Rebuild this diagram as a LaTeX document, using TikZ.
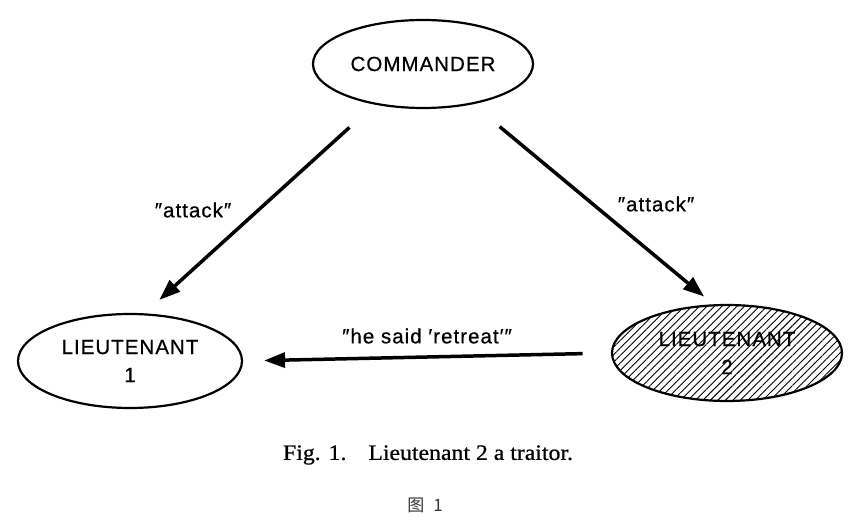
\documentclass[tikz,border=0pt]{standalone}
\usepackage{fontspec}
\usepackage{tikz}
\usetikzlibrary{arrows.meta, shapes.geometric, patterns.meta}

\newfontfamily\labelfont[LetterSpace=5, FakeBold=0.6]{Liberation Sans}
\newfontfamily\capfont[FakeStretch=1.08, FakeBold=0.8]{Liberation Serif}
\newfontfamily\cjkfont{Noto Sans CJK SC}

\begin{document}
\begin{tikzpicture}[x=1pt, y=-1pt,
  every node/.style={align=center},
  general/.style={ellipse, draw, line width=2.2pt, inner sep=0pt, font=\labelfont\fontsize{20.5}{28}\selectfont},
  traitor/.style={general, pattern={Lines[angle=45, distance=5.3pt, line width=0.9pt]}},
  message/.style={font=\labelfont\fontsize{20.5}{24}\selectfont},
  arrow/.style={-{Triangle[length=21pt, width=15pt]}, line width=3.5pt}
]
\useasboundingbox (0,0) rectangle (860,526);

% Nodes
\node[general, minimum width=220pt, minimum height=88pt] (commander) at (423,64) {COMMANDER};
\node[general, minimum width=224pt, minimum height=94pt] (lieut1) at (130,361) {LIEUTENANT\\1};
\node[traitor, minimum width=230pt, minimum height=96pt] (lieut2) at (727,353) {LIEUTENANT\\2};

% Messages
\node[message] (attack1) at (193,210) {″attack″};
\node[message] (attack2) at (656,204) {″attack″};
\node[message] (retreat) at (427,336) {″he said ′retreat′″};

% Caption
\node[font=\capfont\fontsize{22}{26}\selectfont] (caption) at (428,455) {Fig. 1.\quad Lieutenant 2 a traitor.};
\node[font=\cjkfont\fontsize{17}{19}\selectfont, text=black!80] (fignum) at (425,505) {图\hspace{9pt}1};

% Arrows
\draw[arrow, shorten <=34pt, shorten >=20pt] (commander.220) -- (lieut1.73);
\draw[arrow, shorten <=35pt, shorten >=13pt] (commander.321) -- (lieut2.105);
\draw[arrow, shorten <=29pt, shorten >=21pt] (lieut2.west) -- (lieut1.east);

\end{tikzpicture}
\end{document}
